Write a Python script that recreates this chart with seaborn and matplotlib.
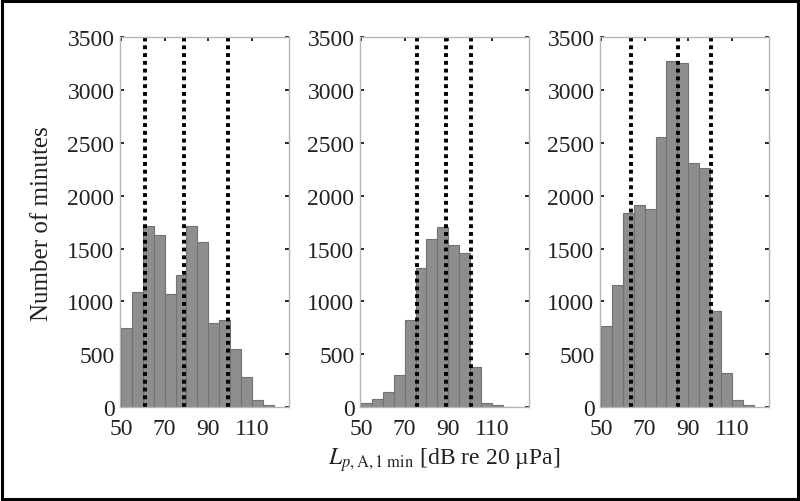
import numpy as np
import seaborn as sns
import matplotlib.pyplot as plt
from matplotlib.patches import Rectangle

# bin left edges (dB), 5 dB wide
bin_edges = [50, 55, 60, 65, 70, 75, 80, 85, 90, 95, 100, 105, 110, 115, 120]

counts_a = [750, 1090, 1710, 1630, 1070, 1250, 1710, 1560, 800, 825, 550, 285, 70, 22]
counts_b = [38, 76, 140, 306, 820, 1320, 1590, 1700, 1535, 1455, 375, 38, 22, 0]
counts_c = [770, 1160, 1835, 1910, 1870, 2560, 3270, 3260, 2310, 2260, 910, 322, 69, 16]

# dotted marker lines (percentile levels)
levels_a = [61, 79, 99]
levels_b = [75.5, 89, 100.5]
levels_c = [63.8, 85.2, 100.5]

x_ticks = [50, 70, 90, 110]
y_ticks = [0, 500, 1000, 1500, 2000, 2500, 3000, 3500]

sns.set_style("ticks")
plt.rcParams['font.family'] = ['Liberation Serif', 'DejaVu Serif']
plt.rcParams['mathtext.fontset'] = 'stix'

fig = plt.figure(figsize=(8, 5.02), dpi=100)
fig.patches.append(Rectangle((0.002, 0.003), 0.996, 0.994, transform=fig.transFigure,
                             fill=False, edgecolor='black', linewidth=2.2))

panels = [(counts_a, levels_a), (counts_b, levels_b), (counts_c, levels_c)]
lefts = [0.15, 0.45, 0.75]
centers = [e + 2.5 for e in bin_edges[:-1]]

axes = []
for left, (counts, levels) in zip(lefts, panels):
    ax = fig.add_axes([left, 0.187, 0.211, 0.737])
    sns.histplot(x=centers, weights=counts, bins=bin_edges, ax=ax,
                 color='#8e8e8e', edgecolor='#727272', linewidth=0.8, alpha=1)
    for lv in levels:
        ax.axvline(lv, color='black', linewidth=2.8, linestyle=(0, (1, 1)))
    ax.set_xlim(49.5, 127)
    ax.set_ylim(0, 3500)
    ax.set_xticks(x_ticks)
    ax.set_yticks(y_ticks)
    ax.set_ylabel('')
    ax.set_xlabel('')
    ax.tick_params(direction='in', top=True, right=True, length=3, width=1.2,
                   color='black', labelsize=17, labelcolor='#222222')
    ax.tick_params(axis='x', pad=8)
    ax.tick_params(axis='y', pad=4)
    for sp in ax.spines.values():
        sp.set_color('#b5b5b5')
        sp.set_linewidth(1)
    axes.append(ax)

axes[0].set_ylabel('Number of minutes', fontsize=18, color='#222222', labelpad=10)
axes[1].set_xlabel(r'$L_{p,\mathrm{A},1\ \mathrm{min}}$ [dB re 20 µPa]', fontsize=17,
                   color='#222222', labelpad=4)

fig.savefig('out.png', dpi=100)
